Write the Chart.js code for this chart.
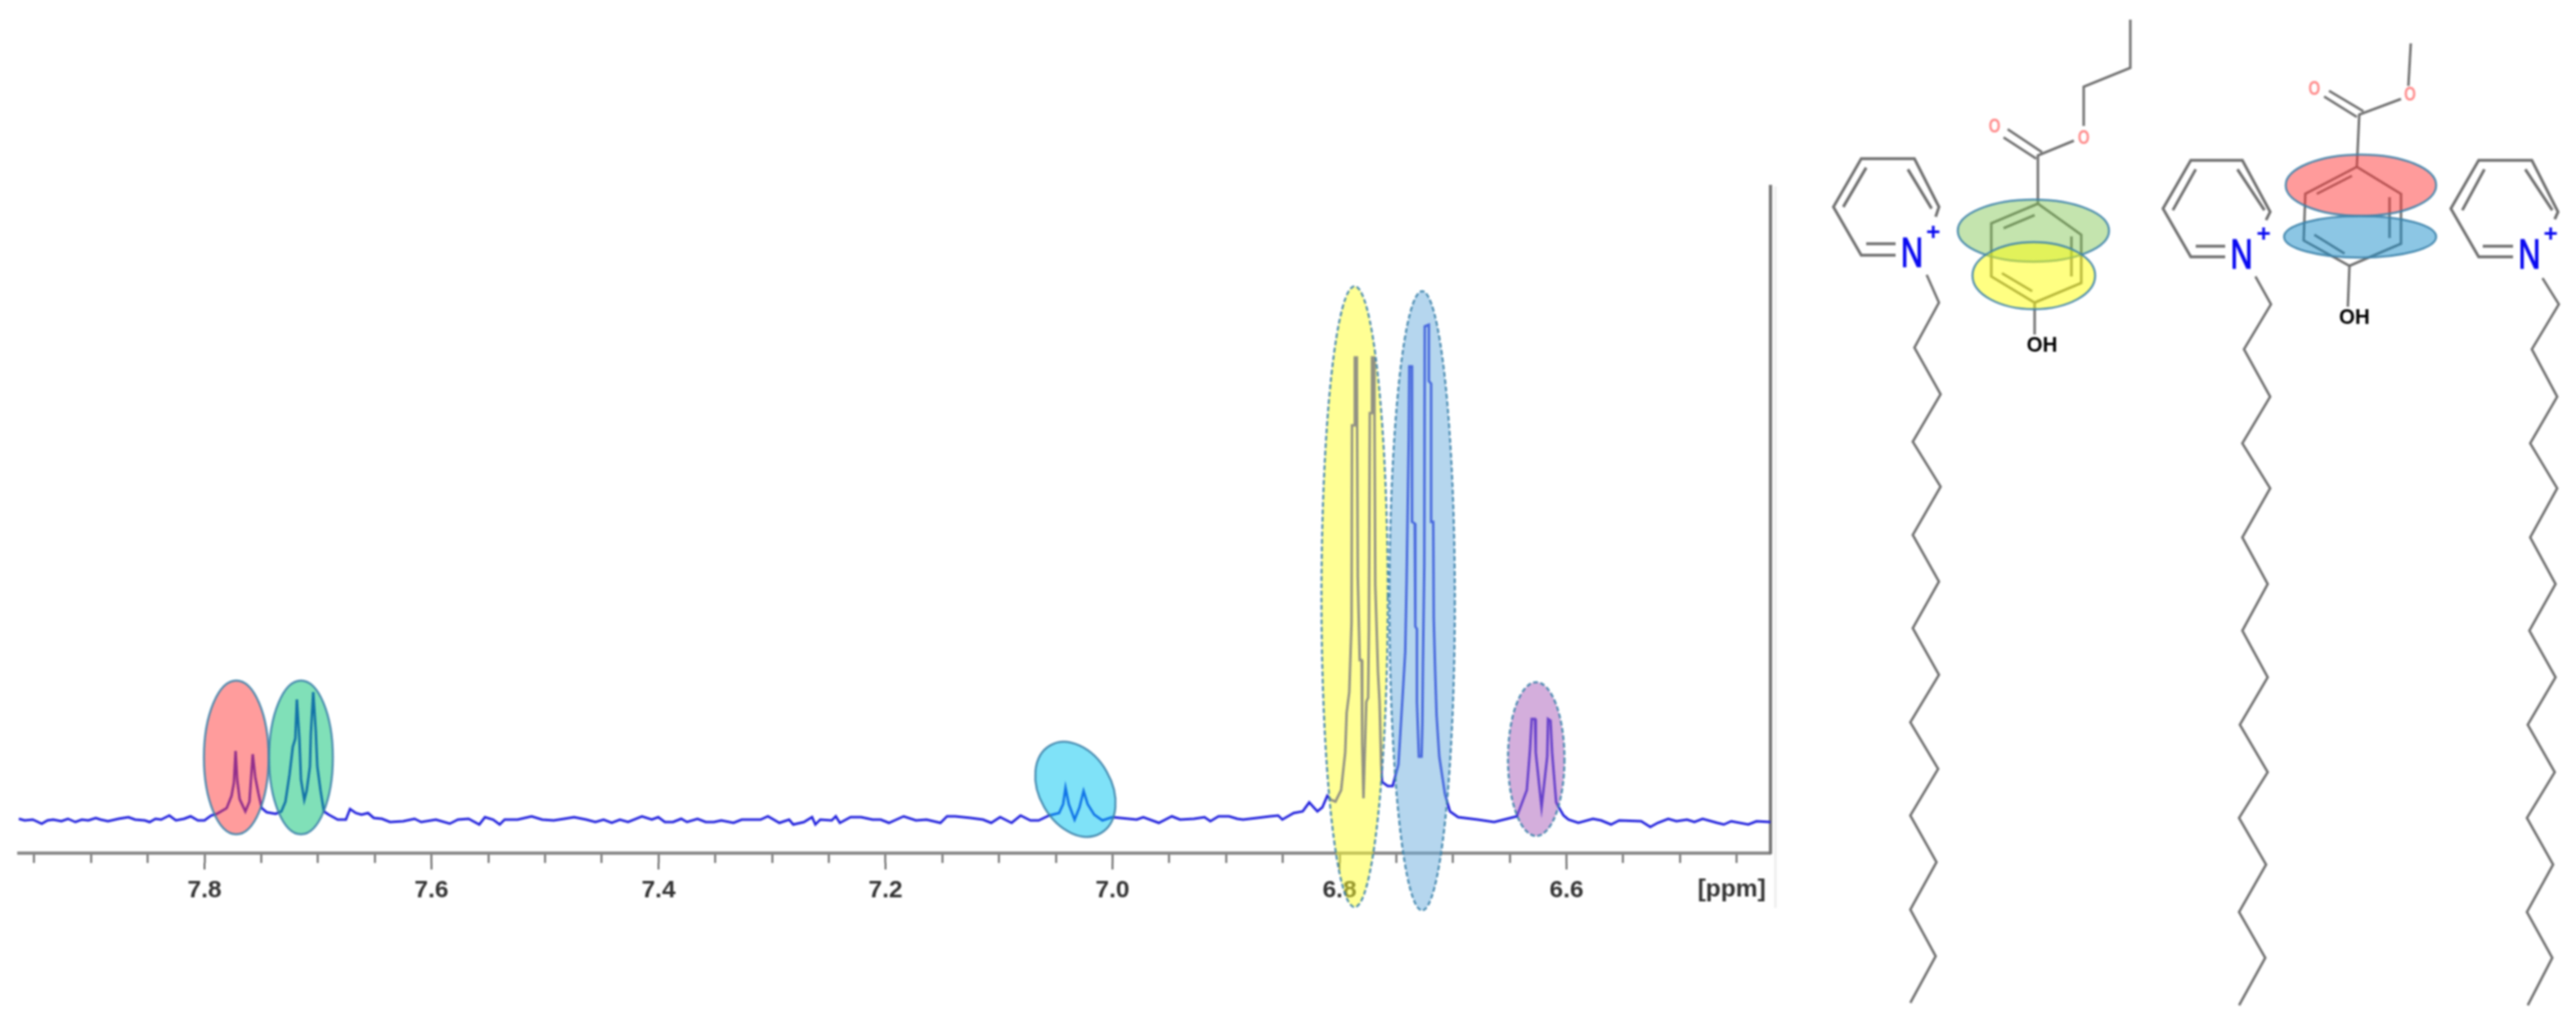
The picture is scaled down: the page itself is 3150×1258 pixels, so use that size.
<!DOCTYPE html>
<html>
<head>
<meta charset="utf-8">
<title>NMR spectrum</title>
<script src="https://cdn.jsdelivr.net/npm/chart.js@4/dist/chart.umd.min.js"></script>
<style>
    html, body { margin: 0; padding: 0; background: #fff; }
    .stage { position: relative; width: 3150px; height: 1258px; overflow: hidden; }
    .stage canvas { position: absolute; left: 0; top: 0; filter: blur(0.8px); }
</style>
</head>
<body>
<div class="stage">
    <canvas id="spectrum" width="3150" height="1258"></canvas>
    <canvas id="structures" width="3150" height="1258"></canvas>
</div>
<script>
// Spectrum trace
const spectrumPpm = [
    7.9636, 7.9585, 7.9513, 7.9434, 7.9383, 7.9333, 7.9261, 7.9203, 7.9138, 7.9081, 7.9023, 7.8958, 7.8915, 7.885, 7.8757,
    7.867, 7.8612, 7.8526, 7.8483, 7.8432, 7.8382, 7.831, 7.8252, 7.818, 7.8122, 7.8058, 7.8, 7.7942, 7.7892,
    7.7805, 7.7762, 7.7741, 7.7726, 7.7712, 7.769, 7.764, 7.7604, 7.7589, 7.7575, 7.7553, 7.7525, 7.7496, 7.7452, 7.7373, 7.7323,
    7.7287, 7.7251, 7.7222, 7.72, 7.7186, 7.7164, 7.715, 7.7121, 7.71, 7.7071, 7.7063, 7.7042, 7.702, 7.7006, 7.6977, 7.6948,
    7.6905, 7.6826, 7.6754, 7.6718, 7.6667, 7.6617, 7.6559, 7.6509, 7.6437, 7.6365, 7.6249, 7.6149, 7.6091, 7.5961, 7.5839,
    7.5767, 7.5673, 7.5579, 7.5529, 7.5457, 7.5399, 7.5356, 7.5241, 7.5118, 7.5025, 7.4924, 7.483, 7.4744, 7.4636, 7.4556,
    7.4484, 7.4412, 7.434, 7.4268, 7.4146, 7.4059, 7.4002, 7.3944, 7.3872, 7.38, 7.3749, 7.3656, 7.3584, 7.3512, 7.3447,
    7.3339, 7.3267, 7.3101, 7.3036, 7.2935, 7.2849, 7.2813, 7.2719, 7.2647, 7.2618, 7.2575, 7.2474, 7.2438, 7.2402, 7.2308,
    7.2215, 7.2114, 7.2042, 7.197, 7.184, 7.1732, 7.1638, 7.1516, 7.1458, 7.1386, 7.1249, 7.1141, 7.1069, 7.099, 7.0889,
    7.081, 7.0723, 7.0651, 7.0558, 7.0471, 7.0435, 7.0414, 7.0385, 7.0334, 7.0291, 7.0255, 7.0219, 7.0161, 7.0089, 7.0003,
    6.9931, 6.9787, 6.9729, 6.9592, 6.9477, 6.9405, 6.9282, 6.9189, 6.9138, 6.9066, 6.8973, 6.8901, 6.885, 6.8728, 6.8612,
    6.854, 6.8504, 6.8404, 6.8324, 6.8267, 6.8195, 6.8151, 6.8108, 6.8072, 6.8036, 6.7986,
    // yellow doublet
    6.795, 6.7937, 6.7914, 6.7894, 6.789, 6.7865, 6.7865, 6.7847, 6.7847, 6.7839, 6.7822, 6.7805, 6.78, 6.7789,
    6.7764, 6.7748, 6.7741, 6.7733, 6.7717, 6.7714, 6.7697, 6.7692, 6.7685, 6.7661, 6.7647, 6.7633, 6.7625, 6.7575, 6.7532, 6.7481,
    // blue doublet
    6.7445, 6.7421, 6.7409, 6.739, 6.7385, 6.7361, 6.7361, 6.7337, 6.7332, 6.7318, 6.7318, 6.7301, 6.7277,
    6.727, 6.7265, 6.7253, 6.7249, 6.7213, 6.7213, 6.7193, 6.7193, 6.7174, 6.717, 6.7157, 6.7145, 6.7121,
    6.7071, 6.7027, 6.6955, 6.6782, 6.6638, 6.6523,
    6.6437, 6.635, 6.6321, 6.6307, 6.6278, 6.6271, 6.622, 6.617, 6.6163, 6.6141, 6.6127, 6.6091, 6.6076, 6.6026, 6.5983,
    6.5896, 6.5767, 6.5695, 6.5608, 6.5536, 6.5342, 6.5262, 6.5197, 6.5104, 6.5032, 6.4938, 6.4873, 6.4801, 6.4672, 6.4614,
    6.4549, 6.4398, 6.4326, 6.4203
];
const spectrumIntensity = [
    2, 0, 1, -4, 0, 1, -1, 2, -2, 1, 0, 3, 1, -1, 2,
    4, 1, 0, -2, 2, 1, 6, 0, 2, 5, 0, 0, 6, 8,
    15, 30, 46, 85, 50, 26, 11, 23, 53, 81, 53, 33, 15, 10, 8, 11,
    23, 56, 90, 100, 148, 100, 50, 25, 36, 66, 106, 157, 110, 66, 36, 11,
    7, 1, 1, 14, 9, 7, 9, 3, 2, -2, -1, 2, -2, 1, -4,
    1, 2, -5, 4, 1, -5, 1, 1, 5, 1, 0, 2, 4, 1, -2,
    1, -3, 1, -2, 5, 1, 4, -2, -2, 2, -2, 2, -2, -2, 0,
    -3, 1, 1, 5, -3, 1, -5, -2, 4, -5, 1, 0, 5, -3, 4,
    4, 1, 1, -3, 5, 0, 1, -3, 5, 5, 3, 1, -3, 4, -3,
    6, 0, 0, 6, 9, 20, 40, 20, 1, 16, 36, 20, 7, 0, 4,
    3, 1, 4, -3, 5, 1, 2, 4, -1, 5, 5, 2, 1, 3, 5,
    6, 1, 9, 11, 22, 11, 16, 30, 25, 23, 37,
    // yellow doublet
    83, 132, 157, 242, 483, 483, 566, 566, 545, 298, 196, 196, 93, 27,
    145, 150, 232, 498, 498, 566, 566, 504, 288, 181, 145, 68, 47, 42, 42, 68,
    // blue doublet
    150, 206, 293, 468, 555, 555, 365, 363, 237, 234, 145, 78, 78,
    119, 191, 314, 604, 606, 537, 534, 365, 365, 247, 181, 129, 78,
    32, 11, 4, 1, -2, 2,
    5, 37, 88, 124, 124, 83, 16, 78, 124, 122, 83, 22, 18, 6, 1,
    -3, 2, 0, -5, 0, -1, -8, -3, 2, -1, 1, -2, 2, -3, -5,
    -1, -5, -1, -2
];
const xTickPpm = [7.95, 7.9, 7.85, 7.8, 7.75, 7.7, 7.65, 7.6, 7.55, 7.5, 7.45, 7.4, 7.35, 7.3, 7.25, 7.2, 7.15, 7.1, 7.05, 7.0, 6.95, 6.9, 6.85, 6.8, 6.75, 6.7, 6.65, 6.6, 6.55, 6.5, 6.45];
const xTickLabels = ['7.8', '7.6', '7.4', '7.2', '7.0', '6.8', '6.6'];

// Coloured bands over the peaks (centre and half size in axis units)
const bandPpm = [7.772, 7.715, 7.0327, 6.7867, 6.7272, 6.6267];
const bandHalfPpm = [0.0285, 0.0281, 0.0317, 0.0292, 0.0288, 0.0249];
const bandIntensity = [77, 77, 38, 273.5, 268.5, 75];
const bandHalfIntensity = [94, 94, 62, 379.5, 378.5, 94];
const bandTilt = [0, 0, -30, 0, 0, 0];
const bandFill = ['rgba(255,57,57,.5)', 'rgba(1,193,113,.5)', 'rgba(0,197,241,.5)', 'rgba(255,255,41,.5)', 'rgba(107,173,221,.5)', 'rgba(169,93,185,.5)'];
const bandDash = [[], [], [], [6, 3], [6, 3], [6, 3]];

// Structures, in page units
const chainA = [[2356,336],[2371,370],[2341,425],[2373,482],[2339,540],[2373,595],[2339,654],[2371,711],[2339,768],[2371,825],[2336,883],[2370,940],[2336,997],[2368,1054],[2336,1112],[2367,1169],[2336,1226]];
const chainB = [[2758,338],[2777,372],[2744,427],[2776,485],[2742,542],[2776,597],[2742,657],[2773,714],[2742,771],[2773,828],[2739,886],[2773,944],[2738,1000],[2771,1057],[2738,1115],[2770,1171],[2738,1229]];
const chainC = [[3109,340],[3129,372],[3096,427],[3127,485],[3094,542],[3127,597],[3094,657],[3125,714],[3093,771],[3125,828],[3091,886],[3124,944],[3090,1000],[3122,1057],[3090,1115],[3121,1171],[3091,1229]];
const ringA = [[2367,265],[2371,253],[2341,194],[2276,194],[2242,253],[2276,312],[2318,312]];
const ringB = [[2771,269],[2776,259],[2742,196],[2679,196],[2645,255],[2679,314],[2721,314]];
const ringC = [[3124,268],[3128,259],[3096,196],[3031,196],[2997,255],[3031,314],[3073,314]];
const innerA = [[[2254,253],[2282,205]], [[2333,207],[2362,255]], [[2282,298],[2318,298]]];
const innerB = [[[2657,257],[2685,207]], [[2736,207],[2769,257]], [[2685,301],[2721,301]]];
const innerC = [[[3011,257],[3038,207]], [[3088,207],[3121,257]], [[3036,301],[3073,301]]];

const paraben1 = [[2492,249],[2545,287],[2545,346],[2488,370],[2435,338],[2435,273],[2492,249]];
const paraben1Bonds = [
    [[2605,24],[2605,83],[2548,106],[2548,154]], [[2536,172],[2492,190],[2492,249]],
    [[2490,194],[2450,168]], [[2497,186],[2455,158]],
    [[2450,279],[2488,263]], [[2533,289],[2533,338]], [[2448,334],[2485,356]], [[2488,370],[2488,409]]
];
const paraben2 = [[2882,204],[2936,237],[2936,298],[2873,325],[2817,294],[2819,237],[2882,204]];
const paraben2Bonds = [
    [[2948,53],[2945,105]], [[2936,121],[2885,140],[2882,204]],
    [[2882,143],[2842,118]], [[2890,136],[2848,111]],
    [[2833,237],[2876,215]], [[2922,241],[2922,291]], [[2830,287],[2867,310]], [[2873,325],[2871,375]]
];

const ringBandX = [2486.5, 2487, 2887, 2886];
const ringBandY = [282, 337, 226.5, 289.5];
const ringBandRx = [92.5, 75, 92, 93];
const ringBandRy = [38, 41, 37.5, 25.5];
const ringBandFill = ['rgba(125,195,75,.45)', 'rgba(255,255,5,.5)', 'rgba(255,55,55,.5)', 'rgba(25,141,201,.5)'];

const atomLabels = ['N', 'N', 'N', '+', '+', '+', 'O', 'O', 'O', 'O', 'OH', 'OH'];
const atomX = [2338, 2741, 3093, 2364, 2768, 3119, 2548, 2439, 2947, 2830, 2497, 2879];
const atomY = [312, 314, 314, 285, 287, 287, 169, 155, 116, 109, 423, 389];

const AXIS_FONT = 'bold 30px "Liberation Sans", Arial, sans-serif';

function drawOval(ctx, x, y, rx, ry, tiltDeg, fill, dash) {
    ctx.save();
    ctx.beginPath();
    ctx.ellipse(x, y, rx, ry, tiltDeg * Math.PI / 180, 0, Math.PI * 2);
    ctx.fillStyle = fill;
    ctx.fill();
    ctx.setLineDash(dash);
    ctx.lineWidth = 2.5;
    ctx.strokeStyle = 'rgba(60,130,170,.9)';
    ctx.stroke();
    ctx.restore();
}

const spectrumExtras = {
    id: 'spectrumExtras',
    afterDraw(chart) {
        const { ctx, chartArea, scales } = chart;
        const { x, y } = scales;

        // Labelled ticks are longer than the others
        ctx.save();
        ctx.strokeStyle = '#555';
        ctx.lineWidth = 2;
        x.ticks.forEach(t => {
            if (xTickLabels.includes(t.value.toFixed(1)) && Math.abs(t.value * 5 - Math.round(t.value * 5)) < 1e-6) {
                const px = x.getPixelForValue(t.value);
                ctx.beginPath();
                ctx.moveTo(px, chartArea.bottom + 12);
                ctx.lineTo(px, chartArea.bottom + 20);
                ctx.stroke();
            }
        });

        // faint edge right of the frame
        ctx.strokeStyle = '#eee';
        ctx.lineWidth = 3;
        ctx.beginPath();
        ctx.moveTo(chartArea.right + 6, chartArea.top);
        ctx.lineTo(chartArea.right + 6, chartArea.bottom + 67);
        ctx.stroke();

        ctx.font = AXIS_FONT;
        ctx.fillStyle = '#333';
        ctx.textAlign = 'center';
        ctx.textBaseline = 'middle';
        ctx.fillText('[ppm]', x.getPixelForValue(6.4545), chartArea.bottom + 45);
        ctx.restore();

        bandPpm.forEach((ppm, i) => {
            const px = x.getPixelForValue(ppm);
            const py = y.getPixelForValue(bandIntensity[i]);
            const rx = Math.abs(x.getPixelForValue(ppm + bandHalfPpm[i]) - px);
            const ry = Math.abs(y.getPixelForValue(bandIntensity[i] + bandHalfIntensity[i]) - py);
            drawOval(ctx, px, py, rx, ry, bandTilt[i], bandFill[i], bandDash[i]);
        });
    }
};

new Chart(document.getElementById('spectrum'), {
    type: 'scatter',
    data: {
        datasets: [{
            label: 'Spectrum',
            data: spectrumPpm.map((p, i) => ({ x: p, y: spectrumIntensity[i] })),
            showLine: true,
            borderColor: '#2222dd',
            borderWidth: 3,
            pointRadius: 0,
            tension: 0,
            clip: false
        }]
    },
    options: {
        responsive: false,
        animation: false,
        layout: { padding: { left: 23, right: 985, top: 228, bottom: 155 } },
        plugins: { legend: { display: false }, tooltip: { enabled: false } },
        scales: {
            x: {
                type: 'linear',
                reverse: true,
                min: 6.4203,
                max: 7.9636,
                afterBuildTicks: scale => { scale.ticks = xTickPpm.map(v => ({ value: v })); },
                afterFit: scale => { scale.height = 60; },
                ticks: {
                    autoSkip: false,
                    maxRotation: 0,
                    padding: 16,
                    color: '#333',
                    font: { family: '"Liberation Sans", Arial, sans-serif', size: 30, weight: 'bold' },
                    callback: value => {
                        const label = value.toFixed(1);
                        return Math.abs(value * 5 - Math.round(value * 5)) < 1e-6 && xTickLabels.includes(label) ? label : '';
                    }
                },
                grid: { drawOnChartArea: false, tickLength: 12, tickColor: '#555', tickWidth: 2 },
                border: { color: '#888', width: 4 }
            },
            y: {
                type: 'linear',
                position: 'right',
                min: -40,
                max: 775,
                afterFit: scale => { scale.width = 0; },
                ticks: { display: false },
                grid: { display: false },
                border: { color: '#777', width: 4 }
            }
        }
    },
    plugins: [spectrumExtras]
});

function bondLine(points, width) {
    return {
        data: points.map(p => ({ x: p[0], y: p[1] })),
        showLine: true,
        borderColor: '#6f6f6f',
        borderWidth: width,
        pointRadius: 0,
        tension: 0,
        clip: false
    };
}

const structureLines = [
    ...[chainA, chainB, chainC].map(l => bondLine(l, 3)),
    ...[ringA, ringB, ringC, ...innerA, ...innerB, ...innerC].map(l => bondLine(l, 3.5)),
    ...[paraben1, paraben2, ...paraben1Bonds, ...paraben2Bonds].map(l => bondLine(l, 3))
];

const structureExtras = {
    id: 'structureExtras',
    afterDraw(chart) {
        const { ctx, scales } = chart;
        const { x, y } = scales;

        ringBandX.forEach((cx, i) => {
            const px = x.getPixelForValue(cx);
            const py = y.getPixelForValue(ringBandY[i]);
            const rx = Math.abs(x.getPixelForValue(cx + ringBandRx[i]) - px);
            const ry = Math.abs(y.getPixelForValue(ringBandY[i] + ringBandRy[i]) - py);
            drawOval(ctx, px, py, rx, ry, 0, ringBandFill[i], []);
        });

        atomLabels.forEach((label, i) => {
            ctx.save();
            ctx.translate(x.getPixelForValue(atomX[i]), y.getPixelForValue(atomY[i]));
            ctx.textAlign = 'center';
            ctx.textBaseline = 'middle';
            if (label === 'N') {
                ctx.scale(0.75, 1);
                ctx.font = '50px "Liberation Sans", Arial, sans-serif';
                ctx.fillStyle = '#0a0af0';
                ctx.strokeStyle = '#0a0af0';
                ctx.lineWidth = 1.5;
                ctx.strokeText(label, 0, 0);
            } else if (label === '+') {
                ctx.font = 'bold 30px "Liberation Sans", Arial, sans-serif';
                ctx.fillStyle = '#0a0af0';
            } else if (label === 'O') {
                ctx.scale(0.85, 1.1);
                ctx.font = 'bold 22px "Liberation Sans", Arial, sans-serif';
                ctx.fillStyle = '#ff8a8a';
            } else {
                ctx.font = 'bold 25px "Liberation Sans", Arial, sans-serif';
                ctx.fillStyle = '#000';
            }
            ctx.fillText(label, 0, 0);
            ctx.restore();
        });
    }
};

new Chart(document.getElementById('structures'), {
    type: 'scatter',
    data: { datasets: structureLines },
    options: {
        responsive: false,
        animation: false,
        layout: { padding: 0 },
        plugins: { legend: { display: false }, tooltip: { enabled: false } },
        scales: {
            x: { type: 'linear', display: false, min: 0, max: 3150 },
            y: { type: 'linear', display: false, reverse: true, min: 0, max: 1258 }
        }
    },
    plugins: [structureExtras]
});
</script>
</body>
</html>
